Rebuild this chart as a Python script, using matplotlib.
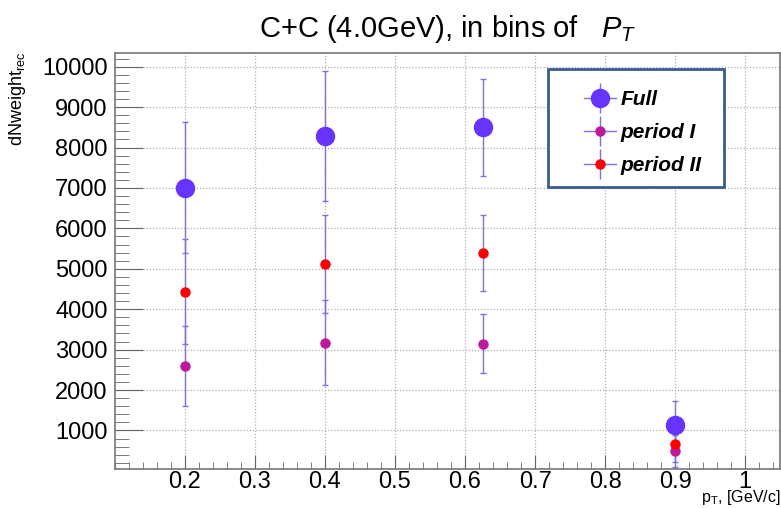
import numpy as np
import matplotlib
matplotlib.use("Agg")
import matplotlib.pyplot as plt
from matplotlib.lines import Line2D
from matplotlib.patches import Rectangle
from matplotlib.ticker import MultipleLocator

plt.rcParams['font.family'] = ['Liberation Sans', 'DejaVu Sans']
plt.rcParams['mathtext.fontset'] = 'custom'
plt.rcParams['mathtext.rm'] = 'Liberation Sans'
plt.rcParams['mathtext.it'] = 'Liberation Sans:italic'

# pT bin centres
pt = [0.2, 0.4, 0.625, 0.9]

# dNweight_rec values
full = [7010, 8280, 8500, 1140]
full_err = [1630, 1610, 1200, 580]
period1 = [2590, 3170, 3150, 490]
period1_err = [990, 1050, 740, 400]
period2 = [4430, 5110, 5390, 660]
period2_err = [1300, 1210, 940, 430]

labels = ['Full', 'period I', 'period II']
colors = ['#6633ff', '#c0189c', '#ff0000']
msizes = [13, 6.5, 6.5]
errcol = '#7b72e0'

fig = plt.figure(figsize=(7.81, 5.08), dpi=100)
ax = fig.add_axes([0.147, 0.0762, 0.852, 0.819])

series = [(full, full_err), (period1, period1_err), (period2, period2_err)]
for (vals, errs), c, ms in zip(series, colors, msizes):
    ax.errorbar(pt, vals, yerr=errs, fmt='o', color=c, ms=ms, mec=c,
                ecolor=errcol, elinewidth=1, capsize=2.5, capthick=1, zorder=3)

ax.set_xlim(0.1, 1.05)
ax.set_ylim(40, 10333)
ax.xaxis.set_major_locator(MultipleLocator(0.1))
ax.xaxis.set_minor_locator(MultipleLocator(0.02))
ax.yaxis.set_major_locator(MultipleLocator(1000))
ax.yaxis.set_minor_locator(MultipleLocator(200))
ax.set_xticks([0.2, 0.3, 0.4, 0.5, 0.6, 0.7, 0.8, 0.9, 1.0])
ax.set_xticklabels(['0.2', '0.3', '0.4', '0.5', '0.6', '0.7', '0.8', '0.9', '1'])
ax.tick_params(which='both', direction='in', color='#666666', labelsize=17)
ax.tick_params(axis='y', which='major', length=20, pad=5)
ax.tick_params(axis='y', which='minor', length=10)
ax.tick_params(axis='x', which='major', length=10, pad=1)
ax.tick_params(axis='x', which='minor', length=5)
ax.grid(True, which='major', color='#b0b0b0', linestyle=(0, (1, 1.5)), linewidth=0.9)
ax.set_axisbelow(True)
for s in ax.spines.values():
    s.set_color('#777777')
    s.set_linewidth(1.2)

ax.set_title('C+C (4.0GeV), in bins of   $P_T$', fontsize=21, pad=12)
fig.text(0.023, 0.898, r'dNweight$_{\mathrm{rec}}$', rotation=90, va='top', ha='center', fontsize=13)
fig.text(0.999, 0.001, r'p$_{\mathrm{T}}$, [GeV/c]', ha='right', va='bottom', fontsize=11.5)

# legend box
ax.add_patch(Rectangle((0.651, 0.679), 0.265, 0.283, transform=ax.transAxes,
                       facecolor='white', edgecolor='#3b5b93', linewidth=2, zorder=5))
handles = []
for c, ms in zip(colors, msizes):
    hline = Line2D([], [], color=errcol, lw=1)
    vline = Line2D([], [], color=errcol, lw=0, marker='|', ms=22, mew=1)
    dot = Line2D([], [], color=c, lw=0, marker='o', ms=ms)
    handles.append((hline, vline, dot))
leg = ax.legend(handles, labels, loc='upper left', bbox_to_anchor=(0.69, 0.937),
                frameon=False, handlelength=1.5, handletextpad=0.25, labelspacing=0.68,
                borderpad=0, prop={'size': 15, 'weight': 'bold', 'style': 'italic'})
leg.set_zorder(6)

fig.savefig('out.png', dpi=100)
